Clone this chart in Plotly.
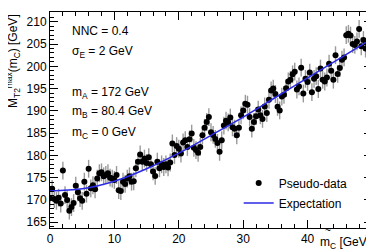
import plotly.graph_objects as go

# ---- data -------------------------------------------------------------
mc_trial = [i / 3 for i in range(151)]  # trial mass grid, 0 .. 50 GeV
mt2max_data = [
    170.4, 172.5, 170.2, 169.8, 170.5, 169.2, 176.6, 171.1, 170.0, 167.6,
    168.4, 169.3, 173.2, 171.7, 170.4, 169.8, 174.1, 171.4, 177.0, 172.6,
    173.3, 172.4, 174.8, 176.0, 176.2, 175.3, 175.6, 176.0, 175.0, 174.8,
    174.5, 175.6, 172.2, 172.0, 174.1, 173.6, 174.8, 175.3, 174.1, 174.2,
    177.1, 178.6, 180.2, 178.6, 179.3, 178.3, 179.6, 178.0, 176.4, 175.4,
    178.6, 177.1, 178.0, 177.4, 178.0, 177.3, 178.4, 182.7, 180.1, 182.1,
    181.5, 180.4, 182.9, 183.4, 181.9, 183.6, 184.9, 181.7, 181.2, 180.6,
    181.9, 184.5, 186.2, 187.5, 188.6, 185.2, 184.6, 183.7, 182.8, 180.8,
    183.4, 186.7, 187.8, 187.4, 188.5, 186.3, 186.0, 184.5, 186.2, 189.0,
    190.1, 191.6, 191.4, 188.6, 186.0, 187.5, 188.8, 190.3, 189.0, 188.2,
    191.0, 189.5, 192.5, 194.6, 195.0, 193.8, 190.9, 190.1, 193.2, 193.6,
    195.1, 196.6, 197.0, 198.2, 198.8, 194.8, 195.5, 199.7, 193.9, 197.2,
    196.5, 198.6, 194.2, 197.2, 197.8, 194.9, 199.5, 197.0, 196.6, 197.5,
    200.6, 199.0, 197.0, 202.5, 198.3, 199.6, 201.5, 202.0, 207.0, 207.3,
    206.9, 205.0, 204.8, 205.6, 208.4, 204.5, 205.9, 204.0, 205.2, 204.3,
    203.0,
]
sigma_e = 2.0

expect_x = [0, 5, 10, 15, 20, 25, 30, 35, 40, 45, 50]
expect_y = [172.0, 172.5, 174.2, 177.0, 180.5, 184.5, 188.6, 193.0, 197.4, 201.8, 206.2]

y_ticks = [165, 170, 175, 180, 185, 190, 195, 200, 205, 210]
x_ticks = [0, 10, 20, 30, 40, 50]

info_lines = [
    ("NNC = 0.4", 0.912),
    ("σ<sub>E</sub> = 2 GeV", 0.816),
    ("m<sub>A</sub> = 172 GeV", 0.627),
    ("m<sub>B</sub> = 80.4 GeV", 0.535),
    ("m<sub>C</sub> = 0 GeV", 0.442),
]

FONT = "Liberation Sans, Arial, sans-serif"

fig = go.Figure()
fig.add_trace(go.Scatter(
    x=mc_trial, y=mt2max_data, mode="markers", name="Pseudo-data",
    marker=dict(color="black", size=6),
    error_y=dict(type="constant", value=sigma_e, color="#9a9a9a",
                 thickness=1.4, width=0),
    legendgroup="a",
))
fig.add_trace(go.Scatter(
    x=expect_x, y=expect_y, mode="lines", name="Expectation",
    line=dict(color="#2a2ae6", width=1.5, shape="spline"),
    legendgroup="b",
))

for txt, yy in info_lines:
    fig.add_annotation(text=txt, xref="paper", yref="paper", x=0.062, y=yy,
                       xanchor="left", yanchor="middle", showarrow=False,
                       font=dict(size=12, color="black", family=FONT))

# x-axis title (ROOT style, right aligned) with a tilde drawn over the m
fig.add_annotation(text="m<sub>C</sub> [GeV]", xref="paper", yref="paper",
                   x=1.0, y=-0.023, xanchor="right", yanchor="top",
                   showarrow=False, font=dict(size=12, color="black", family=FONT))
fig.add_annotation(text="~", xref="paper", yref="paper",
                   x=0.863, y=-0.012, xanchor="center", yanchor="middle",
                   showarrow=False, font=dict(size=10, color="black", family=FONT))
fig.add_annotation(text="M<sub>T2</sub><sup>max</sup>(m̃<sub>C</sub>) [GeV]",
                   xref="paper", yref="paper", x=-0.115, y=1.0,
                   xanchor="center", yanchor="top", textangle=-90,
                   showarrow=False, font=dict(size=12, color="black", family=FONT))

axis_common = dict(
    showgrid=False, zeroline=False, showline=True, linecolor="black",
    linewidth=1, mirror="ticks", ticks="inside", tickcolor="black",
    tickfont=dict(size=12, color="black", family=FONT),
    ticklabeloverflow="allow",
)
fig.update_xaxes(range=[0, 50], tickvals=x_ticks, ticklen=8,
                 minor=dict(ticks="inside", dtick=2, ticklen=4, tickcolor="black"),
                 **axis_common)
fig.update_yaxes(range=[163.7, 212.2], tickvals=y_ticks, ticklen=8,
                 minor=dict(ticks="inside", dtick=1, ticklen=4, tickcolor="black"),
                 **axis_common)

fig.update_layout(
    width=374, height=251,
    margin=dict(l=42, r=8, t=3, b=31),
    paper_bgcolor="white", plot_bgcolor="white",
    font=dict(family=FONT, size=12, color="black"),
    showlegend=True,
    legend=dict(x=0.586, y=0.275, xanchor="left", yanchor="top",
                bgcolor="rgba(0,0,0,0)", traceorder="grouped",
                tracegroupgap=1, font=dict(size=12, family=FONT)),
)

fig.write_html("out.html")
